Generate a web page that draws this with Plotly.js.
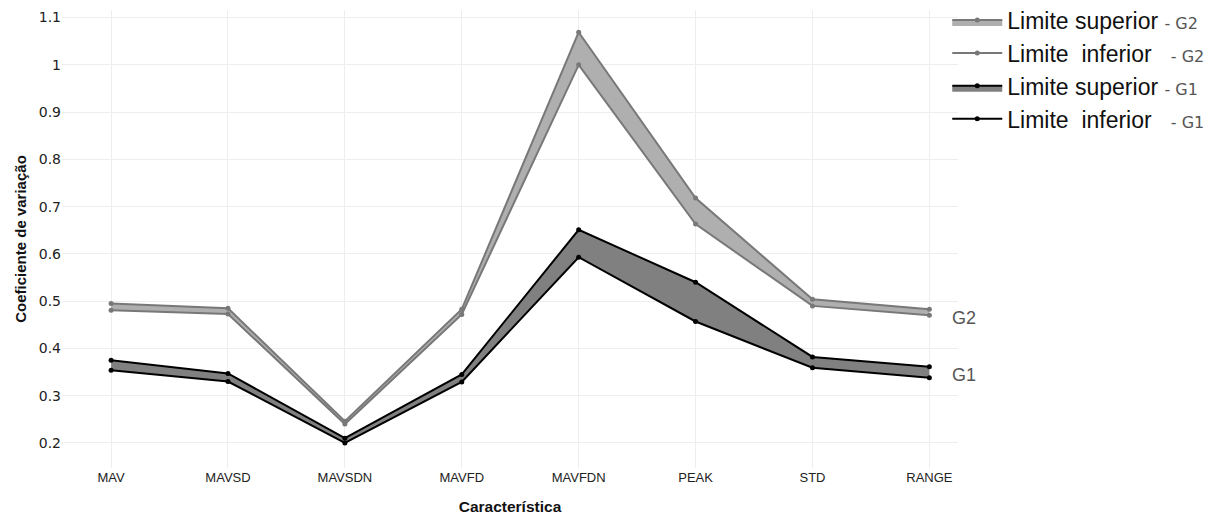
<!DOCTYPE html>
<html>
<head>
<meta charset="utf-8">
<script src="https://cdn.plot.ly/plotly-3.0.1.min.js"></script>
<style>body{margin:0;padding:0;background:#fff;}#chart{width:1229px;height:521px;}</style>
</head>
<body>
<div id="chart"></div>
<script>
const categories = ["MAV","MAVSD","MAVSDN","MAVFD","MAVFDN","PEAK","STD","RANGE"];
const g2Upper = [0.495, 0.485, 0.246, 0.483, 1.069, 0.718, 0.504, 0.483];
const g2Lower = [0.481, 0.473, 0.240, 0.472, 1.000, 0.663, 0.490, 0.470];
const g1Upper = [0.375, 0.347, 0.210, 0.345, 0.651, 0.540, 0.382, 0.361];
const g1Lower = [0.354, 0.330, 0.200, 0.329, 0.593, 0.457, 0.359, 0.338];
const yTicks = [0.2,0.3,0.4,0.5,0.6,0.7,0.8,0.9,1,1.1];
const yTickText = ["0.2","0.3","0.4","0.5","0.6","0.7","0.8","0.9","1","1.1"];

const suffix = (g) => '<span style="font-family:DejaVu Sans;font-size:16px;color:#555">-&nbsp;' + g + '</span>';
const supName = (g) => 'Limite superior&nbsp;' + suffix(g);
const infName = (g) => 'Limite&nbsp; inferior&nbsp;&nbsp;&nbsp;' + suffix(g);

const traces = [
  {x: categories, y: g2Lower, type: 'scatter', mode: 'lines+markers',
   name: infName('G2'), legendrank: 2,
   line: {color: 'rgb(120,120,120)', width: 2}, marker: {color: 'rgb(120,120,120)', size: 5}},
  {x: categories, y: g2Upper, type: 'scatter', mode: 'lines+markers', fill: 'tonexty',
   fillcolor: 'rgb(175,175,175)',
   name: supName('G2'), legendrank: 1,
   line: {color: 'rgb(120,120,120)', width: 2}, marker: {color: 'rgb(120,120,120)', size: 5}},
  {x: categories, y: g1Lower, type: 'scatter', mode: 'lines+markers',
   name: infName('G1'), legendrank: 4,
   line: {color: 'rgb(0,0,0)', width: 2}, marker: {color: 'rgb(0,0,0)', size: 5}},
  {x: categories, y: g1Upper, type: 'scatter', mode: 'lines+markers', fill: 'tonexty',
   fillcolor: 'rgb(128,128,128)',
   name: supName('G1'), legendrank: 3,
   line: {color: 'rgb(0,0,0)', width: 2}, marker: {color: 'rgb(0,0,0)', size: 5}}
];

const layout = {
  width: 1229, height: 521,
  margin: {l: 62, r: 271, t: 10, b: 53, autoexpand: false},
  paper_bgcolor: '#fff', plot_bgcolor: '#fff',
  showlegend: true,
  legend: {x: 0.988, xanchor: 'left', y: 1.025, yanchor: 'top', traceorder: 'normal',
           font: {family: 'Liberation Sans, Arial, sans-serif', size: 23, color: '#111'},
           itemwidth: 50, bgcolor: 'rgba(255,255,255,0)', tracegroupgap: 0},
  xaxis: {
    type: 'category', range: [-0.42, 7.245],
    showgrid: true, gridcolor: 'rgb(238,238,238)', zeroline: false, showline: false,
    tickfont: {family: 'Liberation Sans Narrow, Liberation Sans, Arial, sans-serif', size: 13, color: '#222'},
    ticks: '', ticklen: 0,
    title: {text: '<b>Característica</b>', standoff: 17,
            font: {family: 'Liberation Sans, Arial, sans-serif', size: 15.5, color: '#111'}}
  },
  yaxis: {
    range: [0.147, 1.116],
    tickvals: yTicks, ticktext: yTickText,
    showgrid: true, gridcolor: 'rgb(238,238,238)', zeroline: false, showline: false,
    tickfont: {family: 'DejaVu Sans, Verdana, sans-serif', size: 14, color: '#222'},
    title: {text: '<b>Coeficiente de variação</b>', standoff: 8,
            font: {family: 'Liberation Sans, Arial, sans-serif', size: 15, color: '#111'}}
  },
  annotations: [
    {xref: 'paper', yref: 'y', x: 0.991, y: 0.464, xanchor: 'left', yanchor: 'middle',
     text: 'G2', showarrow: false, font: {family: 'Liberation Sans, Arial, sans-serif', size: 18, color: '#555'}},
    {xref: 'paper', yref: 'y', x: 0.991, y: 0.344, xanchor: 'left', yanchor: 'middle',
     text: 'G1', showarrow: false, font: {family: 'Liberation Sans, Arial, sans-serif', size: 18, color: '#555'}}
  ]
};

Plotly.newPlot('chart', traces, layout, {displayModeBar: false, staticPlot: true});
</script>
</body>
</html>
